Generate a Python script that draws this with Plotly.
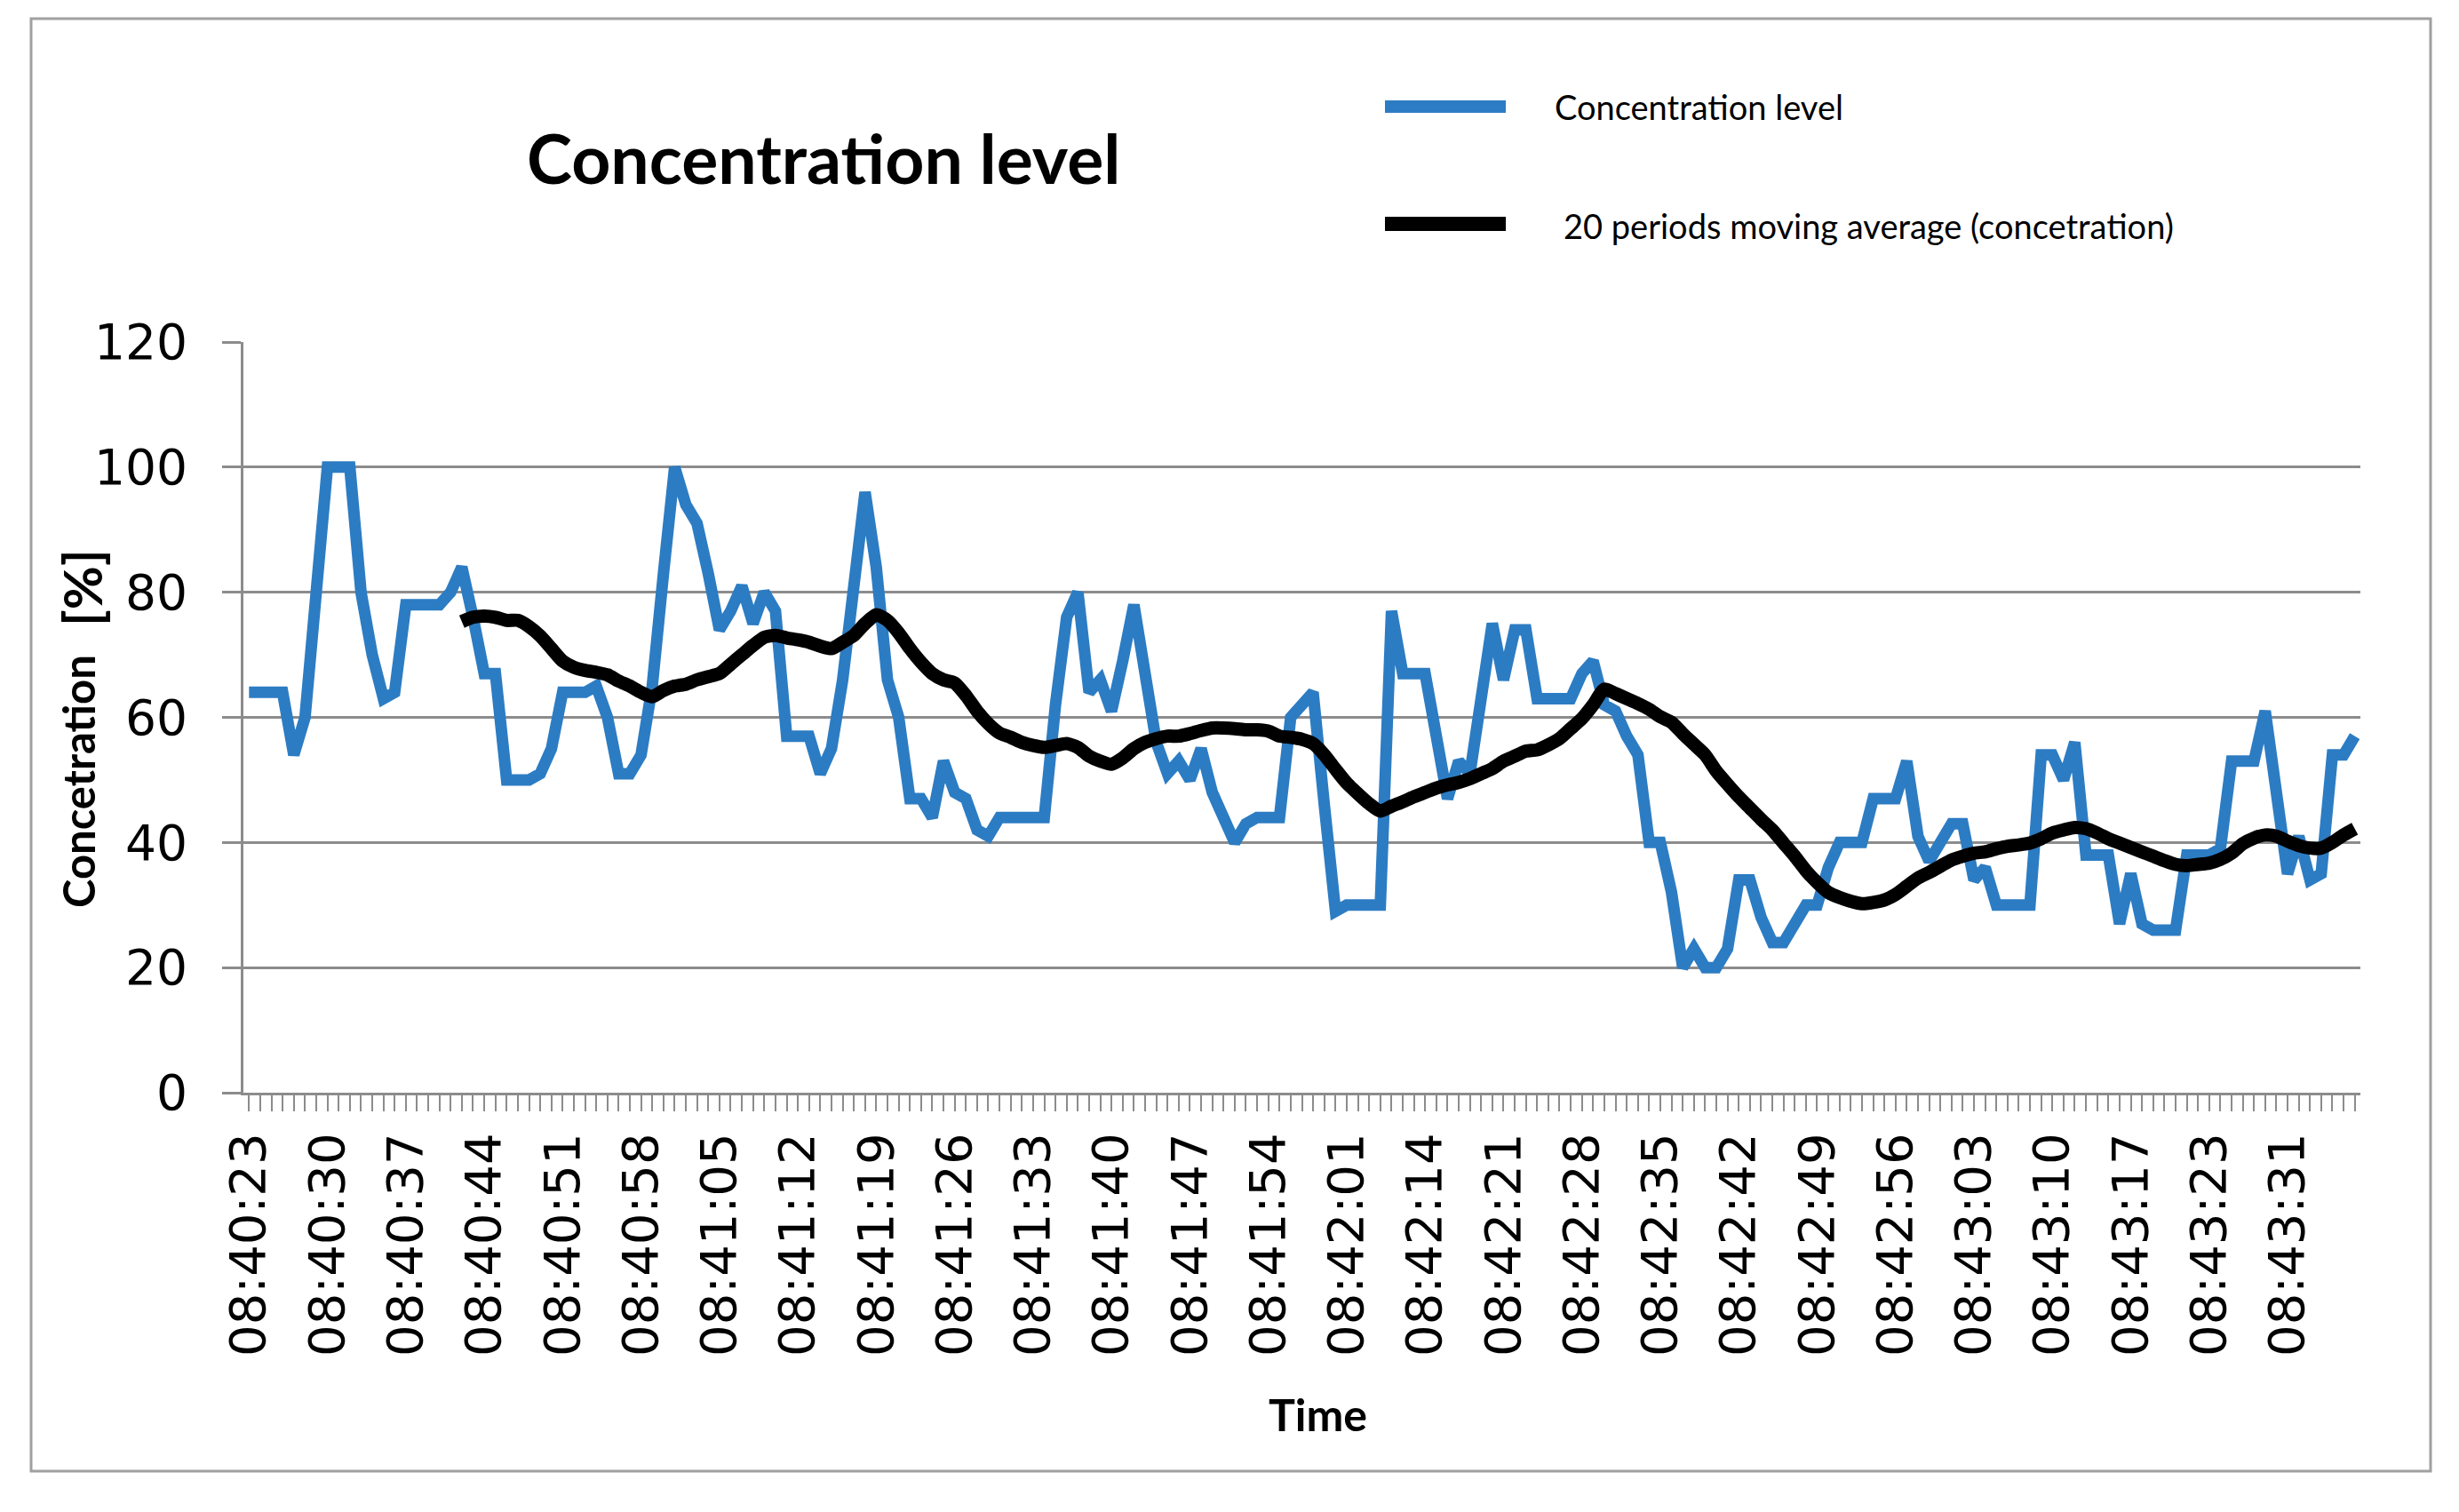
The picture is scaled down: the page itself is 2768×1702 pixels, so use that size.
import plotly.graph_objects as go

# ---- data ----
tick_labels = ["08:40:23", "08:40:30", "08:40:37", "08:40:44", "08:40:51", "08:40:58",
               "08:41:05", "08:41:12", "08:41:19", "08:41:26", "08:41:33", "08:41:40",
               "08:41:47", "08:41:54", "08:42:01", "08:42:14", "08:42:21", "08:42:28",
               "08:42:35", "08:42:42", "08:42:49", "08:42:56", "08:43:03", "08:43:10",
               "08:43:17", "08:43:23", "08:43:31"]

concentration = [
    64, 64, 64, 64, 54, 60, 80, 100, 100, 100,
    80, 70, 63, 64, 78, 78, 78, 78, 80, 84,
    76, 67, 67, 50, 50, 50, 51, 55, 64, 64,
    64, 65, 60, 51, 51, 54, 65, 83, 100, 94,
    91, 83, 74, 77, 81, 75, 80, 77, 57, 57,
    57, 51, 55, 66, 82, 96, 84, 66, 60, 47,
    47, 44, 53, 48, 47, 42, 41, 44, 44, 44,
    44, 44, 62, 76, 80, 64, 66, 61, 69, 78,
    67, 56, 51, 53, 50, 55, 48, 44, 40, 43,
    44, 44, 44, 60, 62, 64, 46, 29, 30, 30,
    30, 30, 77, 67, 67, 67, 57, 47, 53, 51,
    63, 75, 66, 74, 74, 63, 63, 63, 63, 67,
    69, 62, 61, 57, 54, 40, 40, 32, 20, 23,
    20, 20, 23, 34, 34, 28, 24, 24, 27, 30,
    30, 36, 40, 40, 40, 47, 47, 47, 53, 41,
    37, 40, 43, 43, 34, 36, 30, 30, 30, 30,
    54, 54, 50, 56, 38, 38, 38, 27, 35, 27,
    26, 26, 26, 38, 38, 38, 39, 53, 53, 53,
    61, 47, 35, 41, 34, 35, 54, 54, 57,
]

moving_average_start = 19
moving_average = [
    75.3, 76, 76.2, 76, 75.5, 75.5, 74.5, 73, 71, 69, 68,
    67.5, 67.2, 66.8, 65.8, 65, 64, 63.3, 64.3, 65, 65.3,
    66, 66.5, 67, 68.5, 70, 71.5, 72.8, 73.1, 72.7, 72.4,
    72, 71.4, 71, 72, 73.1, 75, 76.4, 75.5, 73.5, 71,
    68.8, 67, 66, 65.5, 63.5, 61, 59, 57.5, 56.8, 56,
    55.5, 55.2, 55.5, 55.8, 55.2, 53.8, 53, 52.5, 53.5, 55,
    56, 56.6, 57, 57, 57.4, 57.9, 58.3, 58.3, 58.2, 58,
    58, 57.8, 57, 56.8, 56.5, 55.8, 54, 51.7, 49.5, 47.8,
    46.2, 45, 45.8, 46.5, 47.3, 48, 48.7, 49.2, 49.6, 50.2,
    51, 51.8, 53, 53.8, 54.6, 54.8, 55.6, 56.6, 58.2, 59.8,
    62, 64.5, 63.8, 63, 62.2, 61.3, 60.1, 59.2, 57.4, 55.7,
    54, 51.4, 49.3, 47.3, 45.5, 43.7, 42, 39.9, 37.8, 35.5,
    33.6, 32, 31.2, 30.6, 30.2, 30.4, 30.8, 31.7, 33, 34.3,
    35.2, 36.2, 37.2, 37.8, 38.3, 38.5, 39, 39.4, 39.6, 39.9,
    40.6, 41.5, 42, 42.4, 42.2, 41.5, 40.6, 39.9, 39.2, 38.5,
    37.8, 37.1, 36.5, 36.3, 36.5, 36.7, 37.3, 38.3, 39.8, 40.7,
    41.2, 41, 40.2, 39.5, 39.1, 39.1, 40, 41.2, 42.2,
]

series_names = ["Concentration level", "20 periods moving average (concetration)"]
label_step = 7

# ---- figure (page has an 8px body margin, so the figure is 8px smaller) ----
OFF = 8
W, H = 2768 - OFF, 1702 - OFF
L, T = 274 - OFF, 385 - OFF
PW, PH = 2383, 845
R, B = W - L - PW, H - T - PH


def px(x):  # window pixel -> paper fraction
    return (x - OFF - L) / PW


def py(y):
    return (T + PH - (y - OFF)) / PH


n = len(concentration)
x_idx = list(range(n))
ma_x = list(range(moving_average_start, moving_average_start + len(moving_average)))

BLUE = "#2C7CC3"
GRID = "#8C8C8C"

fig = go.Figure()
fig.add_trace(go.Scatter(x=x_idx, y=concentration, mode="lines", name=series_names[0],
                         line=dict(color=BLUE, width=13), showlegend=False))
fig.add_trace(go.Scatter(x=ma_x, y=moving_average, mode="lines", name=series_names[1],
                         line=dict(color="#000000", width=15, shape="spline", smoothing=0.6),
                         showlegend=False))

fig.update_layout(
    width=W, height=H,
    margin=dict(l=L, r=R, t=T, b=B),
    paper_bgcolor="white", plot_bgcolor="white",
    font=dict(family="DejaVu Sans", color="black"),
)

fig.update_xaxes(
    range=[-0.5, n - 0.5],
    tickmode="array",
    tickvals=[i * label_step for i in range(len(tick_labels))],
    ticktext=tick_labels,
    tickangle=-90,
    tickfont=dict(family="DejaVu Sans", size=56, color="black"),
    ticks="outside", ticklen=18, tickwidth=2, tickcolor=GRID,
    minor=dict(tickmode="linear", tick0=0, dtick=1, ticks="outside", ticklen=18,
               tickwidth=2, tickcolor=GRID, showgrid=False),
    showline=True, linecolor=GRID, linewidth=3,
    showgrid=False, zeroline=False,
    ticklabelstandoff=2,
)
fig.update_yaxes(
    range=[0, 120], dtick=20, tick0=0,
    tickfont=dict(family="DejaVu Sans", size=55, color="black"),
    ticks="outside", ticklen=21, tickwidth=3, tickcolor=GRID,
    showline=True, linecolor=GRID, linewidth=3,
    showgrid=True, gridcolor=GRID, gridwidth=3,
    zeroline=False,
    ticklabelstandoff=28,
)

annotations = [
    dict(text="<b>Concentration level</b>", x=px(927), y=py(177), xref="paper", yref="paper",
         xanchor="center", yanchor="middle", showarrow=False,
         font=dict(family="Lato", size=77, color="black")),
    dict(text=series_names[0], x=px(1748), y=py(120), xref="paper", yref="paper",
         xanchor="left", yanchor="middle", showarrow=False,
         font=dict(family="Lato", size=38, color="black")),
    dict(text=series_names[1], x=px(1758), y=py(254), xref="paper", yref="paper",
         xanchor="left", yanchor="middle", showarrow=False,
         font=dict(family="Lato", size=38, color="black")),
    dict(text="<b>Concetration</b>", x=px(88), y=py(880), xref="paper", yref="paper",
         xanchor="center", yanchor="middle", showarrow=False, textangle=-90,
         font=dict(family="Lato", size=49, color="black")),
    dict(text="<b>[%]</b>", x=px(92), y=py(662), xref="paper", yref="paper",
         xanchor="center", yanchor="middle", showarrow=False, textangle=-90,
         font=dict(family="Lato", size=60, color="black")),
    dict(text="<b>Time</b>", x=px(1483), y=py(1592), xref="paper", yref="paper",
         xanchor="center", yanchor="middle", showarrow=False,
         font=dict(family="Lato", size=50, color="black")),
]
fig.update_layout(annotations=annotations)

shapes = [
    dict(type="rect", xref="paper", yref="paper", x0=px(35), x1=px(2736), y0=py(1656), y1=py(21),
         line=dict(color="#A0A0A0", width=3), fillcolor="rgba(0,0,0,0)", layer="below"),
    dict(type="line", xref="paper", yref="paper", x0=px(1559), x1=px(1695), y0=py(120), y1=py(120),
         line=dict(color=BLUE, width=14)),
    dict(type="line", xref="paper", yref="paper", x0=px(1559), x1=px(1695), y0=py(252), y1=py(252),
         line=dict(color="#000000", width=16)),
]
fig.update_layout(shapes=shapes)

fig.write_html("out.html")
